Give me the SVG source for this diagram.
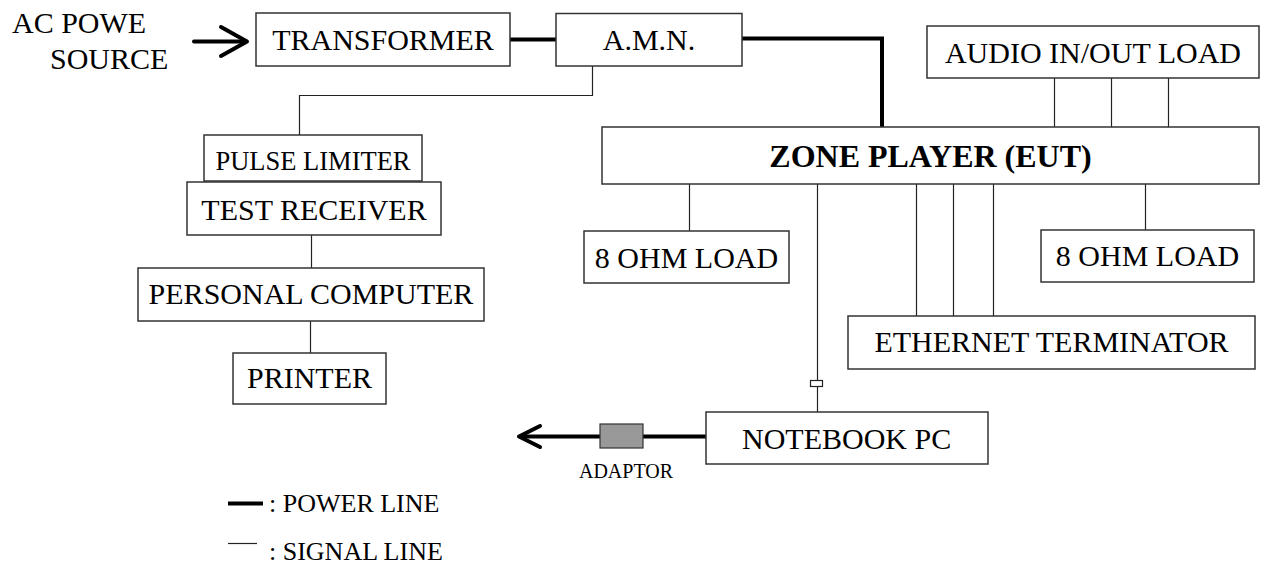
<svg xmlns="http://www.w3.org/2000/svg" width="1267" height="564" viewBox="0 0 1267 564">
<style>
.box{fill:#fff;stroke:#333;stroke-width:1.5}
.t{font-family:"Liberation Serif","Times New Roman",serif;font-size:30px;fill:#000;text-anchor:middle}
.sig{fill:none;stroke:#222;stroke-width:1.2}
.pwr{fill:none;stroke:#000;stroke-width:4}
.arr{fill:none;stroke:#000;stroke-width:4;stroke-linecap:round;stroke-linejoin:round}
</style>
<rect width="1267" height="564" fill="#fff"/>
<g id="connectors">
<line class="pwr" x1="510" y1="39.5" x2="556" y2="39.5"/>
<polyline class="pwr" points="742,38.5 882,38.5 882,127"/>
<polyline class="sig" points="592.5,66 592.5,95.5 299.5,95.5 299.5,135"/>
<line class="sig" x1="311.5" y1="235" x2="311.5" y2="268"/>
<line class="sig" x1="310.5" y1="321" x2="310.5" y2="353"/>
<line class="sig" x1="1054.5" y1="78" x2="1054.5" y2="127"/>
<line class="sig" x1="1111.5" y1="78" x2="1111.5" y2="127"/>
<line class="sig" x1="1168.5" y1="78" x2="1168.5" y2="127"/>
<line class="sig" x1="689.5" y1="184" x2="689.5" y2="231"/>
<line class="sig" x1="916.5" y1="184" x2="916.5" y2="316"/>
<line class="sig" x1="953.5" y1="184" x2="953.5" y2="316"/>
<line class="sig" x1="993.5" y1="184" x2="993.5" y2="316"/>
<line class="sig" x1="1145.5" y1="184" x2="1145.5" y2="230"/>
<line class="sig" x1="817.5" y1="184" x2="817.5" y2="380"/>
<line class="sig" x1="817.5" y1="387" x2="817.5" y2="412"/>
<rect x="810.5" y="380.5" width="12" height="6" fill="#fff" stroke="#222" stroke-width="1.2"/>
<line class="arr" x1="194" y1="41.5" x2="246" y2="41.5"/>
<polyline class="arr" points="221,27 247,41.5 221,56"/>
<line class="pwr" x1="520" y1="436.5" x2="706" y2="436.5"/>
<polyline class="arr" points="540,426 519,436.5 540,447"/>
<rect x="600" y="424" width="43" height="24" fill="#999" stroke="#333" stroke-width="1.2"/>
</g>
<g id="ac-source">
<text class="t" x="12" y="32.5" style="text-anchor:start">AC POWE</text>
<text class="t" x="50" y="68.5" style="text-anchor:start">SOURCE</text>
</g>
<g id="transformer">
<rect class="box" x="256" y="13" width="254" height="53"/>
<text class="t" x="383" y="50">TRANSFORMER</text>
</g>
<g id="amn">
<rect class="box" x="556" y="13.5" width="186" height="52.5"/>
<text class="t" x="649" y="50">A.M.N.</text>
</g>
<g id="audio-load">
<rect class="box" x="927" y="26" width="332" height="52"/>
<text class="t" x="1093" y="63">AUDIO IN/OUT LOAD</text>
</g>
<g id="zone-player">
<rect class="box" x="602" y="127" width="657" height="57"/>
<text class="t" x="930.5" y="167" style="font-weight:bold;font-size:32px">ZONE PLAYER (EUT)</text>
</g>
<g id="pulse-limiter">
<rect class="box" x="204" y="135" width="218" height="46"/>
<text class="t" x="313" y="170" style="font-size:26.5px">PULSE LIMITER</text>
</g>
<g id="test-receiver">
<rect class="box" x="187" y="182" width="254" height="53"/>
<text class="t" x="314" y="220">TEST RECEIVER</text>
</g>
<g id="personal-computer">
<rect class="box" x="138" y="268" width="346" height="53"/>
<text class="t" x="311" y="304">PERSONAL COMPUTER</text>
</g>
<g id="printer">
<rect class="box" x="233" y="353" width="153" height="51"/>
<text class="t" x="309.5" y="388">PRINTER</text>
</g>
<g id="ohm-load-left">
<rect class="box" x="584" y="231" width="205" height="52"/>
<text class="t" x="686.5" y="268">8 OHM LOAD</text>
</g>
<g id="ohm-load-right">
<rect class="box" x="1041" y="230" width="213" height="52"/>
<text class="t" x="1147.5" y="266">8 OHM LOAD</text>
</g>
<g id="ethernet-terminator">
<rect class="box" x="848" y="316" width="407" height="53"/>
<text class="t" x="1051.5" y="352">ETHERNET TERMINATOR</text>
</g>
<g id="notebook-pc">
<rect class="box" x="706" y="412" width="282" height="52"/>
<text class="t" x="742" y="449" style="text-anchor:start">NOTEBOOK PC</text>
</g>
<g id="adaptor-label">
<text class="t" x="626" y="478" style="font-size:20px">ADAPTOR</text>
</g>
<g id="legend">
<line class="pwr" x1="228" y1="503.5" x2="263" y2="503.5"/>
<text class="t" x="269" y="511.5" style="text-anchor:start;font-size:26px">: POWER LINE</text>
<line class="sig" x1="228" y1="543.5" x2="257" y2="543.5"/>
<text class="t" x="269" y="560" style="text-anchor:start;font-size:26px">: SIGNAL LINE</text>
</g>
</svg>
